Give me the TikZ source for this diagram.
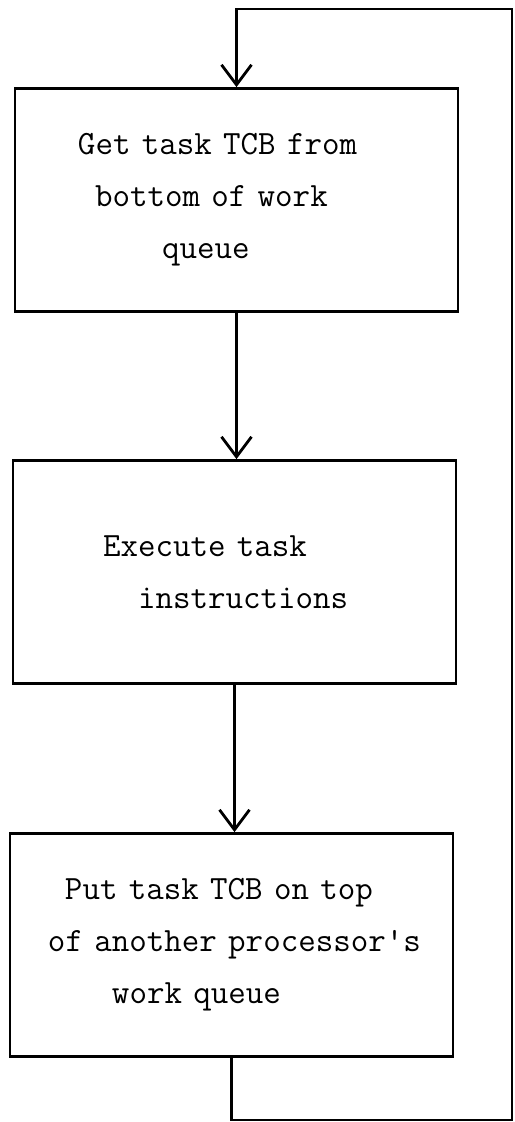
\documentclass[tikz,border=0pt]{standalone}
\usepackage{tikz}
\usetikzlibrary{arrows.meta, positioning}

\begin{document}
\begin{tikzpicture}[x=0.5pt, y=-0.5pt, line width=1.4pt, >={Straight Barb[length=10pt, width=15pt]}]
  \tikzset{stepbox/.style={rectangle, draw, minimum width=221.5pt, minimum height=111.5pt, text width=221.5pt, inner xsep=0pt, align=left, font=\fontsize{17pt}{26pt}\selectfont\ttfamily}}
  \useasboundingbox (0,0) rectangle (514,1122);

  \node (getbox) [stepbox] at (236.5,200) {\hspace*{31.5pt}Get task TCB from\\\hspace*{40pt}bottom of work\\\hspace*{73.5pt}queue};
  \node (execbox) [stepbox] at (234.5,572) {\hspace*{45pt}Execute task\\\hspace*{62.5pt}instructions};
  \node (putbox) [stepbox] at (231.5,945) {\hspace*{27.5pt}Put task TCB on top\\\hspace*{19pt}of another processor's\\\hspace*{51pt}work queue};

  \coordinate (looptop) at (512,9);
  \coordinate (loopbot) at (512,1120);

  \draw[->] (getbox.south) -- (getbox.south |- execbox.north);
  \draw[->] (execbox.south) -- (execbox.south |- putbox.north);
  \draw[->] (putbox.south) -- (putbox.south |- loopbot) -- (loopbot) -- (looptop) -- (getbox.north |- looptop) -- (getbox.north);
\end{tikzpicture}
\end{document}
